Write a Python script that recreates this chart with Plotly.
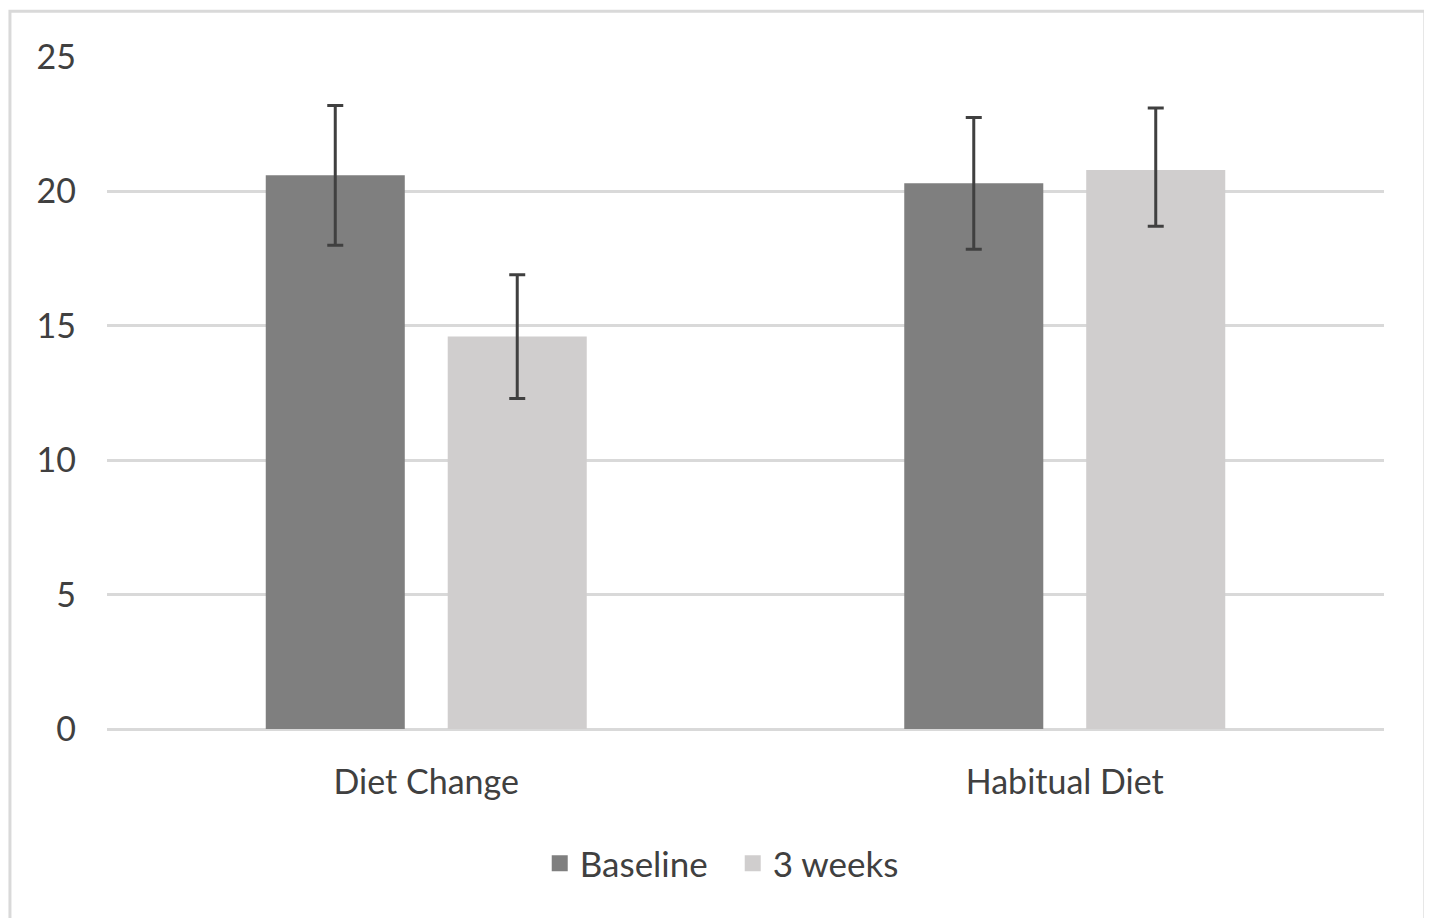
import plotly.graph_objects as go

categories = ["Diet Change", "Habitual Diet"]
series_names = ["Baseline", "3 weeks"]
baseline = [20.6, 20.3]
weeks3 = [14.6, 20.8]
baseline_err_plus = [2.6, 2.45]
baseline_err_minus = [2.6, 2.45]
weeks3_err_plus = [2.3, 2.3]
weeks3_err_minus = [2.3, 2.1]
y_ticks = [0, 5, 10, 15, 20, 25]
colors = ["#7f7f7f", "#d0cece"]

FONT = "Lato"
TXT = "#404040"

fig = go.Figure()
for name, vals, ep, em, col in [
    (series_names[0], baseline, baseline_err_plus, baseline_err_minus, colors[0]),
    (series_names[1], weeks3, weeks3_err_plus, weeks3_err_minus, colors[1]),
]:
    fig.add_trace(go.Bar(
        x=categories, y=vals, name=name, showlegend=False,
        marker=dict(color=col, line=dict(width=0)),
        error_y=dict(type="data", array=ep, arrayminus=em, symmetric=False,
                     color="#404040", thickness=3, width=8),
    ))
# legend entries with larger square swatches
for name, col in zip(series_names, colors):
    fig.add_trace(go.Scatter(
        x=[None], y=[None], mode="markers", name=name, showlegend=True,
        marker=dict(symbol="square", size=24, color=col),
    ))

fig.update_layout(
    width=1432, height=918,
    margin=dict(l=99, r=56, t=49, b=197),
    paper_bgcolor="white", plot_bgcolor="white",
    barmode="group", bargap=0.43, bargroupgap=0.236,
    font=dict(family=FONT, size=34, color=TXT),
    showlegend=True,
    legend=dict(orientation="h", x=0.49, xanchor="center", y=-0.2, yanchor="middle",
                font=dict(family=FONT, size=35, color=TXT),
                itemwidth=30, entrywidth=148, entrywidthmode="pixels",
                traceorder="normal"),
    xaxis=dict(showgrid=False, showline=False, zeroline=False, ticks="",
               tickfont=dict(family=FONT, size=34, color=TXT), ticklabelstandoff=30),
    yaxis=dict(range=[0, 25], tickvals=y_ticks, showgrid=True, gridcolor="#d9d9d9",
               gridwidth=3, zeroline=True, zerolinecolor="#d9d9d9", zerolinewidth=3,
               showline=False, ticks="",
               tickfont=dict(family=FONT, size=34, color=TXT), ticklabelstandoff=30),
    shapes=[dict(type="rect", xref="paper", yref="paper",
                 x0=-0.076, x1=1.032, y0=-0.3, y1=1.068,
                 line=dict(color="#d9d9d9", width=3), fillcolor="rgba(0,0,0,0)",
                 layer="below")],
)

fig.write_html("out.html")
